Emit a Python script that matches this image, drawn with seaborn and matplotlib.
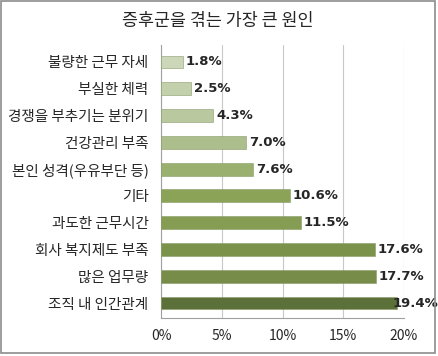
import seaborn as sns
import matplotlib.pyplot as plt
from matplotlib.patches import Rectangle
import pandas as pd

# 데이터
causes = ["불량한 근무 자세", "부실한 체력", "경쟁을 부추기는 분위기", "건강관리 부족",
          "본인 성격(우유부단 등)", "기타", "과도한 근무시간", "회사 복지제도 부족",
          "많은 업무량", "조직 내 인간관계"]
shares = [1.8, 2.5, 4.3, 7.0, 7.6, 10.6, 11.5, 17.6, 17.7, 19.4]
bar_colors = ["#cddcb4", "#c4d6a6", "#bbcf98", "#adc684", "#9dbb63",
              "#8fb04a", "#89a947", "#7f9e3f", "#7a983c", "#5e7a30"]
x_ticks = [0, 5, 10, 15, 20]

sns.set_style("white")
plt.rcParams['font.family'] = ['Noto Sans CJK KR', 'DejaVu Sans']

df = pd.DataFrame({"cause": causes, "share": shares})

fig = plt.figure(figsize=(4.38, 3.56), dpi=100, facecolor="white")
ax = fig.add_axes([161/438, 1 - 318/356, 243/438, 273/356])

sns.barplot(data=df, x="share", y="cause", hue="cause", palette=bar_colors,
            legend=False, width=0.48, ax=ax, zorder=3,
            edgecolor="#8a9a6a", linewidth=0.4)

for c in ax.containers:
    v = c.datavalues[0]
    ax.bar_label(c, fmt="%.1f%%", padding=-3 if v > 19 else 2, fontsize=9.5,
                 fontweight="bold", family=['DejaVu Sans'], zorder=5)

ax.set_xlim(0, 20)
ax.set_ylim(9.56, -0.634)
ax.set_xticks(x_ticks)
ax.set_xticklabels([f"{t}%" for t in x_ticks], fontsize=10)
ax.tick_params(axis="x", pad=8, length=0)
ax.tick_params(axis="y", labelsize=10.5, pad=9, length=0)
ax.set_xlabel("")
ax.set_ylabel("")
ax.grid(axis="x", color="#c8c8c8", linewidth=0.8, zorder=0)
for s in ["top", "right"]:
    ax.spines[s].set_visible(False)
for s in ["left", "bottom"]:
    ax.spines[s].set_color("#a0a0a0")
    ax.spines[s].set_linewidth(0.8)

fig.text(218/438, 1 - 21/356, "증후군을 겪는 가장 큰 원인", ha="center", va="center", fontsize=12.5)

# 바깥 테두리
fig.patches.append(Rectangle((1/438, 3/356), 434/438, 352/356, transform=fig.transFigure,
                             fill=False, edgecolor="#8c8c8c", linewidth=1.2))

fig.savefig("out.png", dpi=100, facecolor="white")
